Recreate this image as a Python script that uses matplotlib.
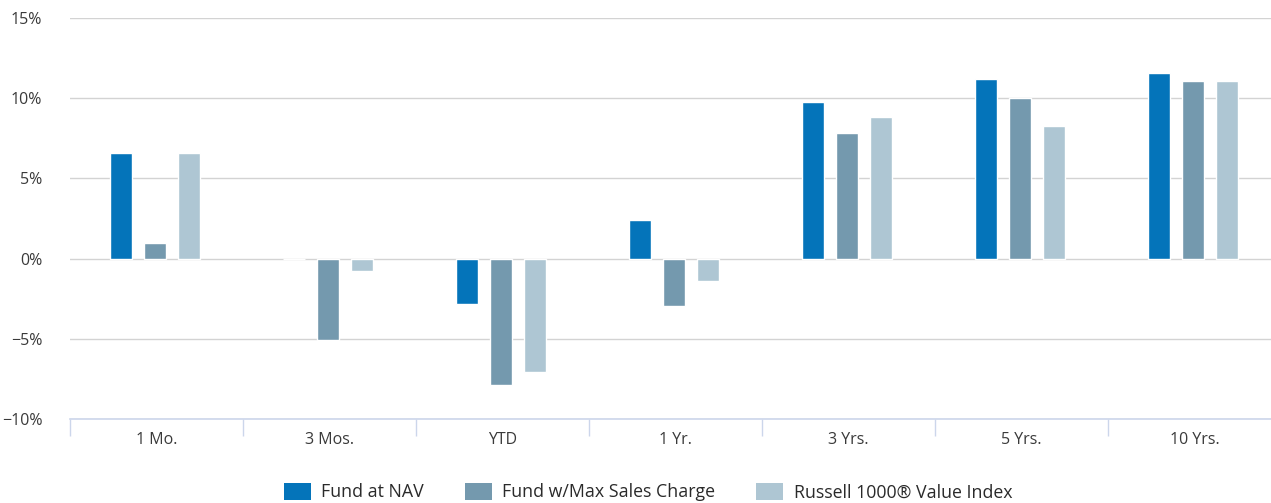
import matplotlib.pyplot as plt
from matplotlib.patches import Patch
import numpy as np

periods = ['1 Mo.', '3 Mos.', 'YTD', '1 Yr.', '3 Yrs.', '5 Yrs.', '10 Yrs.']
fund_nav = [6.6, 0.0, -2.85, 2.4, 9.75, 11.2, 11.6]
fund_max_charge = [0.95, -5.1, -7.9, -2.95, 7.8, 10.0, 11.05]
russell_value = [6.6, -0.75, -7.05, -1.4, 8.8, 8.25, 11.05]
series_names = ['Fund at NAV', 'Fund w/Max Sales Charge', 'Russell 1000\u00ae Value Index']
colors = ['#0474ba', '#7499ae', '#aec6d3']
y_ticks = [-10, -5, 0, 5, 10, 15]

plt.rcParams['font.family'] = ['Open Sans', 'DejaVu Sans']

W, H = 1271, 503
fig = plt.figure(figsize=(W / 100, H / 100), dpi=100)
# plot area runs a little past the right edge, like the source
ax = fig.add_axes([70 / W, (H - 419) / H, 1211 / W, 401 / H])

x = np.arange(len(periods))
bw = 22 / 173
step = 34 / 173
for i, (vals, c) in enumerate(zip([fund_nav, fund_max_charge, russell_value], colors)):
    ax.bar(x + (i - 1) * step - 1.5 / 173, vals, width=bw, color=c, edgecolor='white',
           linewidth=1, zorder=3)

ax.set_xlim(-0.5, len(periods) - 0.5)
ax.set_ylim(-10, 15)
ax.set_yticks(y_ticks)
ax.set_yticklabels(['\u2212%d%%' % -v if v < 0 else '%d%%' % v for v in y_ticks])
ax.yaxis.grid(True, color='#d3d3d3', linewidth=1, zorder=0)
ax.tick_params(axis='y', length=0, pad=20, labelsize=11.5, labelcolor='#3a3a3a')

ax.set_xticks(x)
ax.set_xticklabels(periods)
ax.set_xticks(np.arange(len(periods) + 1) - 0.5, minor=True)
ax.tick_params(axis='x', which='major', length=0, pad=9, labelsize=11.5, labelcolor='#3a3a3a')
ax.tick_params(axis='x', which='minor', length=12, width=1, color='#ccd6eb', direction='out')

for s in ['top', 'right', 'left']:
    ax.spines[s].set_visible(False)
ax.spines['bottom'].set_color('#ccd6eb')
ax.spines['bottom'].set_linewidth(1.2)
ax.spines['bottom'].set_zorder(4)

handles = [Patch(facecolor=c, edgecolor='none') for c in colors]
fig.legend(handles, series_names, loc='center', bbox_to_anchor=(648 / W, (H - 492) / H),
           ncol=3, frameon=False, fontsize=12.8, handlelength=1.5, handleheight=1.15,
           columnspacing=2.3, handletextpad=0.6, labelcolor='#2a2a2a')

fig.savefig('out.png', dpi=100)
